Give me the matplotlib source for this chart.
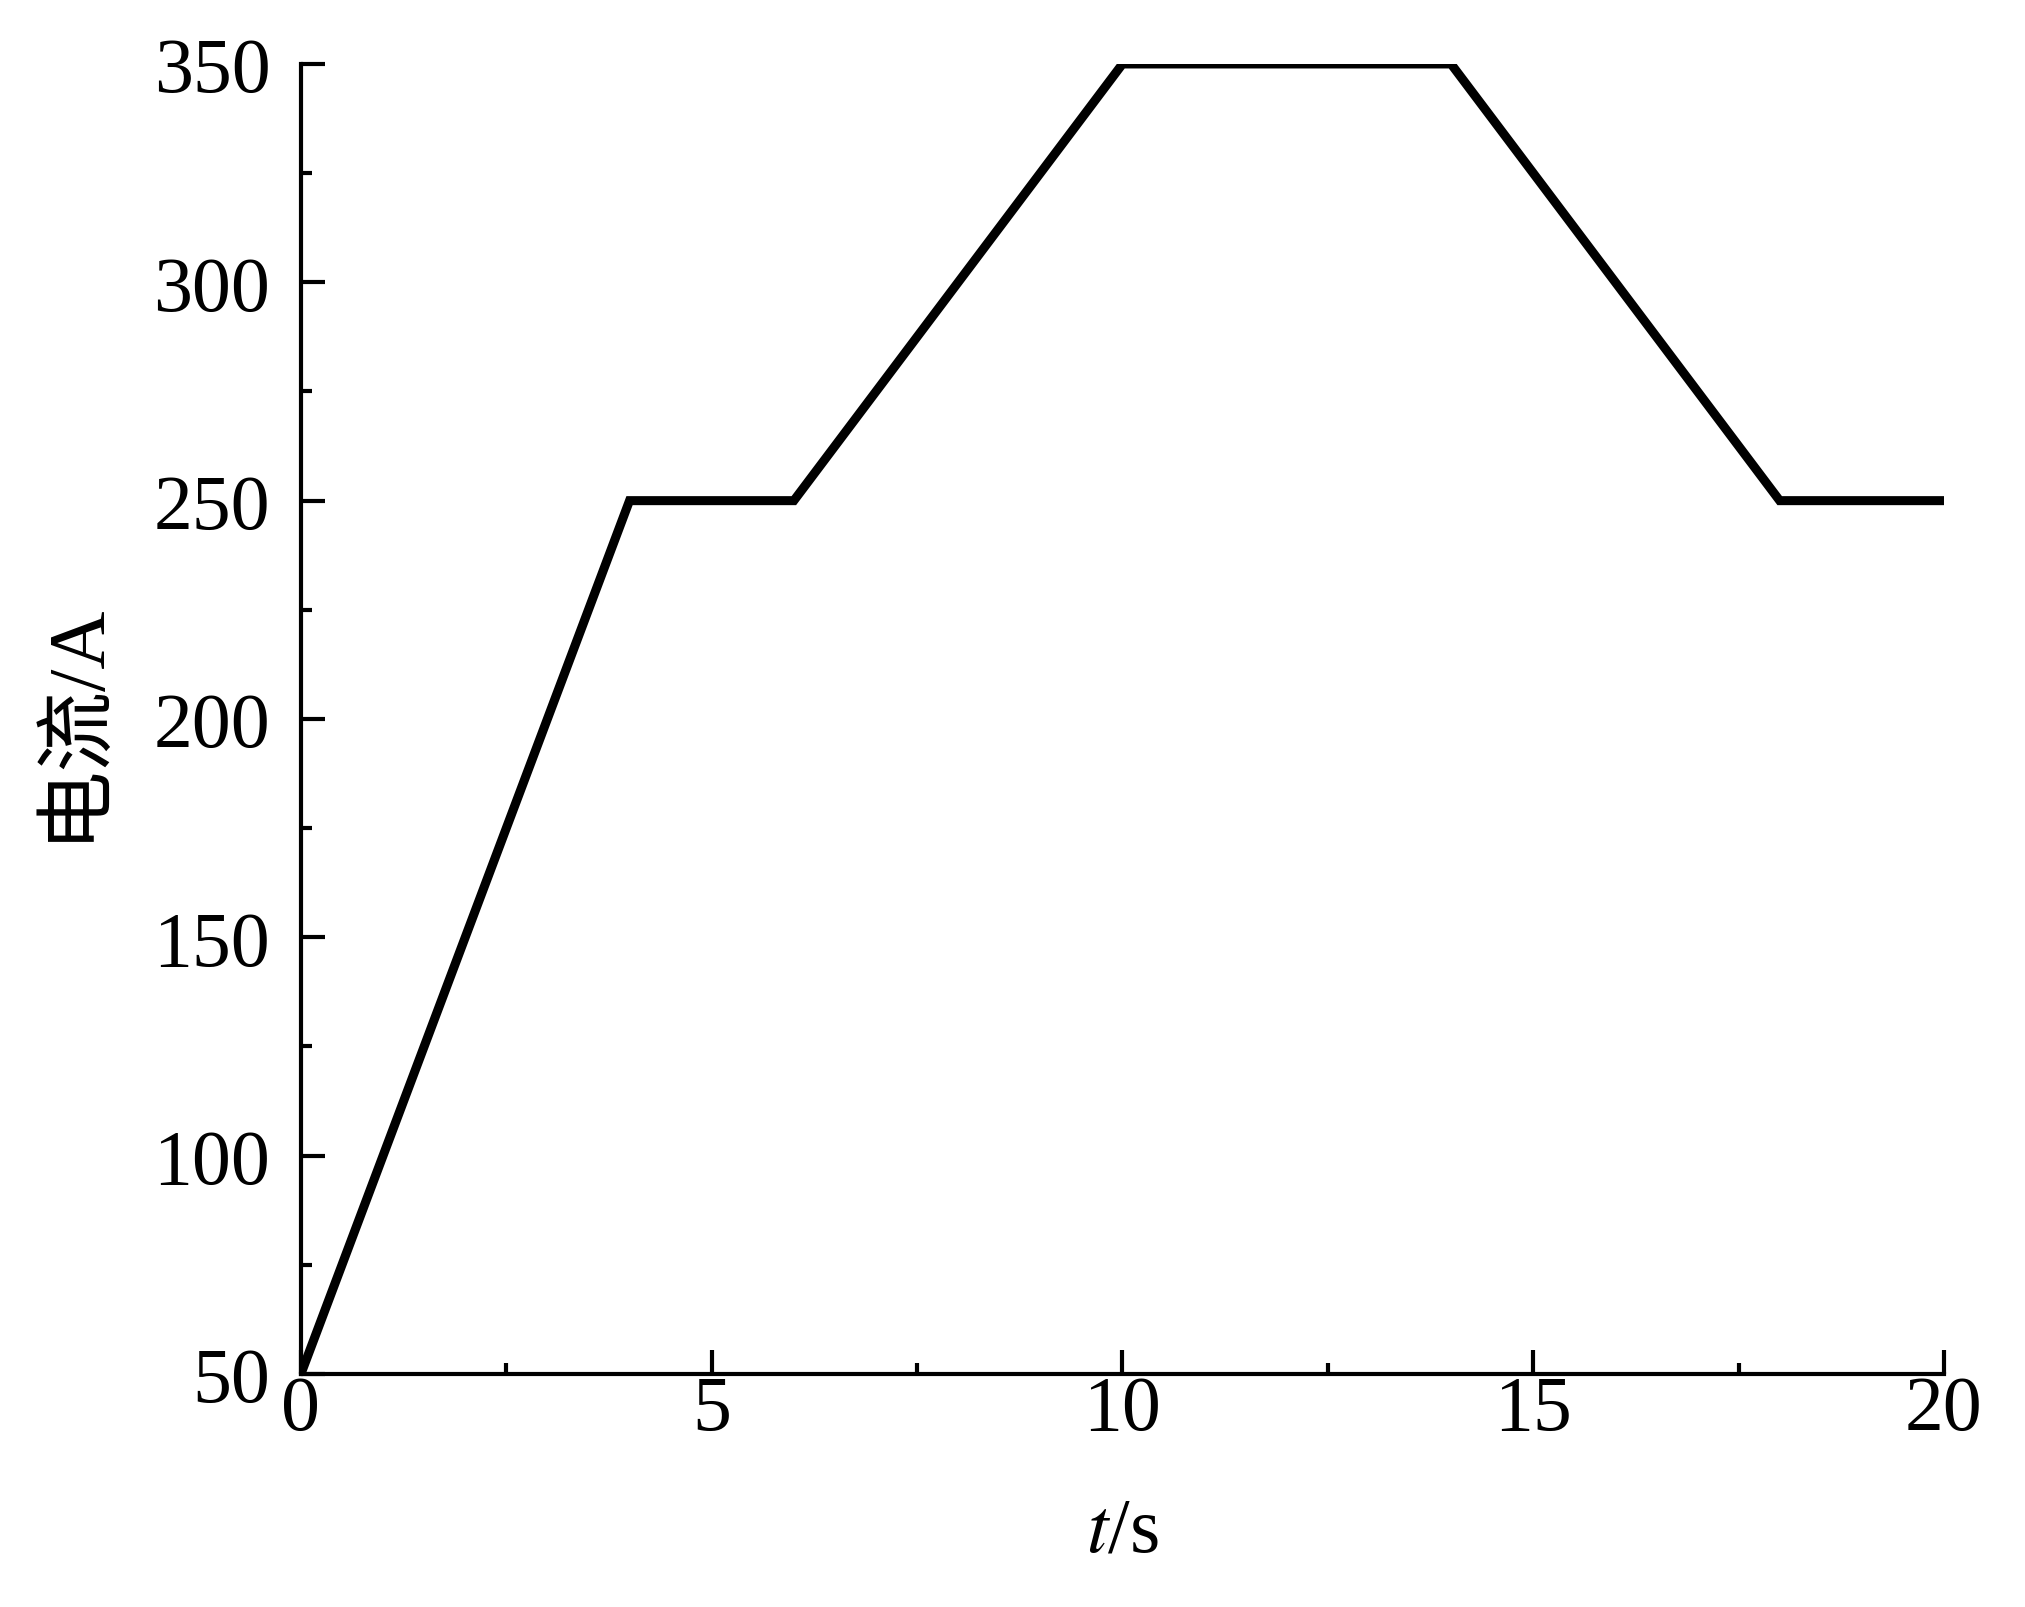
import matplotlib
matplotlib.use("Agg")
import matplotlib.pyplot as plt
from matplotlib.ticker import MultipleLocator

# current profile
t_s = [0, 4, 6, 10, 14, 18, 20]
current_a = [50, 250, 250, 350, 350, 250, 250]

x_ticks = [0, 5, 10, 15, 20]
y_ticks = [50, 100, 150, 200, 250, 300, 350]

plt.rcParams["font.family"] = ["Liberation Serif", "Noto Sans CJK SC"]
plt.rcParams["mathtext.fontset"] = "stix"

fig = plt.figure(figsize=(20.25, 16.08), dpi=100)
ax = fig.add_axes([0.1486, 0.1449, 0.8114, 0.8147])

ax.plot(t_s, current_a, color="black", linewidth=6.5, solid_joinstyle="miter")

ax.set_xlim(0, 20)
ax.set_ylim(50, 350)
ax.set_xticks(x_ticks)
ax.set_yticks(y_ticks)
ax.xaxis.set_minor_locator(MultipleLocator(2.5))
ax.yaxis.set_minor_locator(MultipleLocator(25))

for side in ("top", "right"):
    ax.spines[side].set_visible(False)
for side in ("left", "bottom"):
    ax.spines[side].set_linewidth(3.0)

ax.tick_params(which="major", direction="in", length=17, width=3.0, labelsize=56)
ax.tick_params(which="minor", direction="in", length=8, width=3.0)
ax.tick_params(axis="x", pad=0)
ax.tick_params(axis="y", pad=22)

ax.set_xlabel("$t$/s", fontsize=56, labelpad=36)
ax.set_ylabel("电流/A", fontsize=58, labelpad=30)

fig.savefig("out.png", dpi=100)
